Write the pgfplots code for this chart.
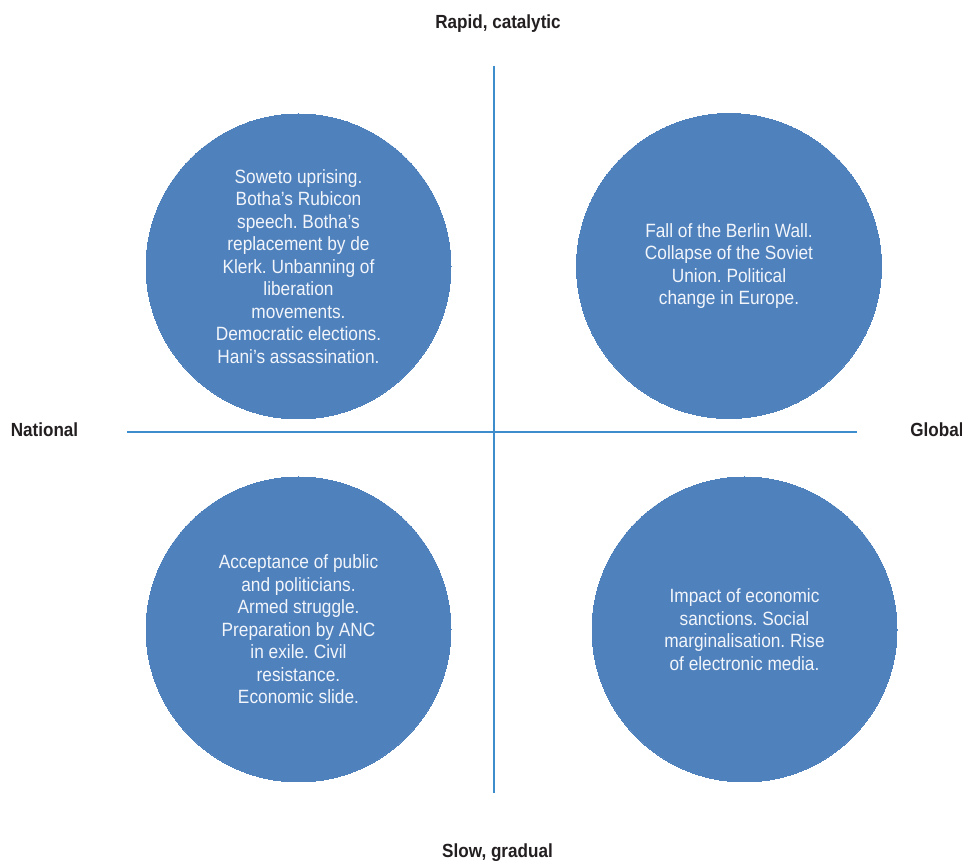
\documentclass[border=0pt]{standalone}
\usepackage{fontspec}
\setmainfont[FakeStretch=0.9]{Liberation Sans}
\usepackage{pgfplots}
\pgfplotsset{compat=1.18}
\definecolor{circ}{HTML}{4F81BD}
\definecolor{quad}{HTML}{3D8CCB}
\definecolor{lab}{HTML}{231F20}
\definecolor{ctext}{HTML}{F2F5FA}
\frenchspacing
\begin{document}
\begin{tikzpicture}
\begin{axis}[
    name=ax,
    width=962pt, height=861pt,
    scale only axis,
    xmin=0, xmax=962,
    ymin=0, ymax=861,
    hide axis,
    clip=false,
    ]
% quadrant lines
\addplot[quad, line width=1.3pt] coordinates {(494,795) (494,68)};
\addplot[quad, line width=1.3pt] coordinates {(127,429) (857,429)};

% circles with their text
\addplot[circ, only marks, mark=*, mark size=152.5pt,
    mark options={fill=circ, draw=circ, line width=0pt},
    point meta=explicit symbolic,
    nodes near coords,
    every node near coord/.append style={anchor=center, align=center,
        text=ctext, font=\fontsize{19.2}{22.5}\selectfont},
    ] coordinates {
  (298.5,594.5) [{Soweto uprising.\\Botha’s Rubicon\\speech. Botha’s\\replacement by de\\Klerk. Unbanning of\\liberation\\movements.\\Democratic elections.\\Hani’s assassination.}]
  (729,595) [{Fall of the Berlin Wall.\\Collapse of the Soviet\\Union. Political\\change in Europe.}]
  (298.5,231.5) [{Acceptance of public\\and politicians.\\Armed struggle.\\Preparation by ANC\\in exile. Civil\\resistance.\\Economic slide.}]
  (744.5,231.5) [{Impact of economic\\sanctions. Social\\marginalisation. Rise\\of electronic media.}]
};

\node[anchor=base, text=lab, font=\bfseries\fontsize{19}{22}\selectfont] at (axis cs:498,832) {Rapid, catalytic};
\node[anchor=base, text=lab, font=\bfseries\fontsize{19}{22}\selectfont] at (axis cs:497.5,3) {Slow, gradual};
\node[anchor=base, text=lab, font=\bfseries\fontsize{19}{22}\selectfont] at (axis cs:44.5,424) {National};
\node[anchor=base, text=lab, font=\bfseries\fontsize{19}{22}\selectfont] at (axis cs:937,424) {Global};
\end{axis}
\pgfresetboundingbox
\path (ax.south west) rectangle (ax.north east);
\end{tikzpicture}
\end{document}
